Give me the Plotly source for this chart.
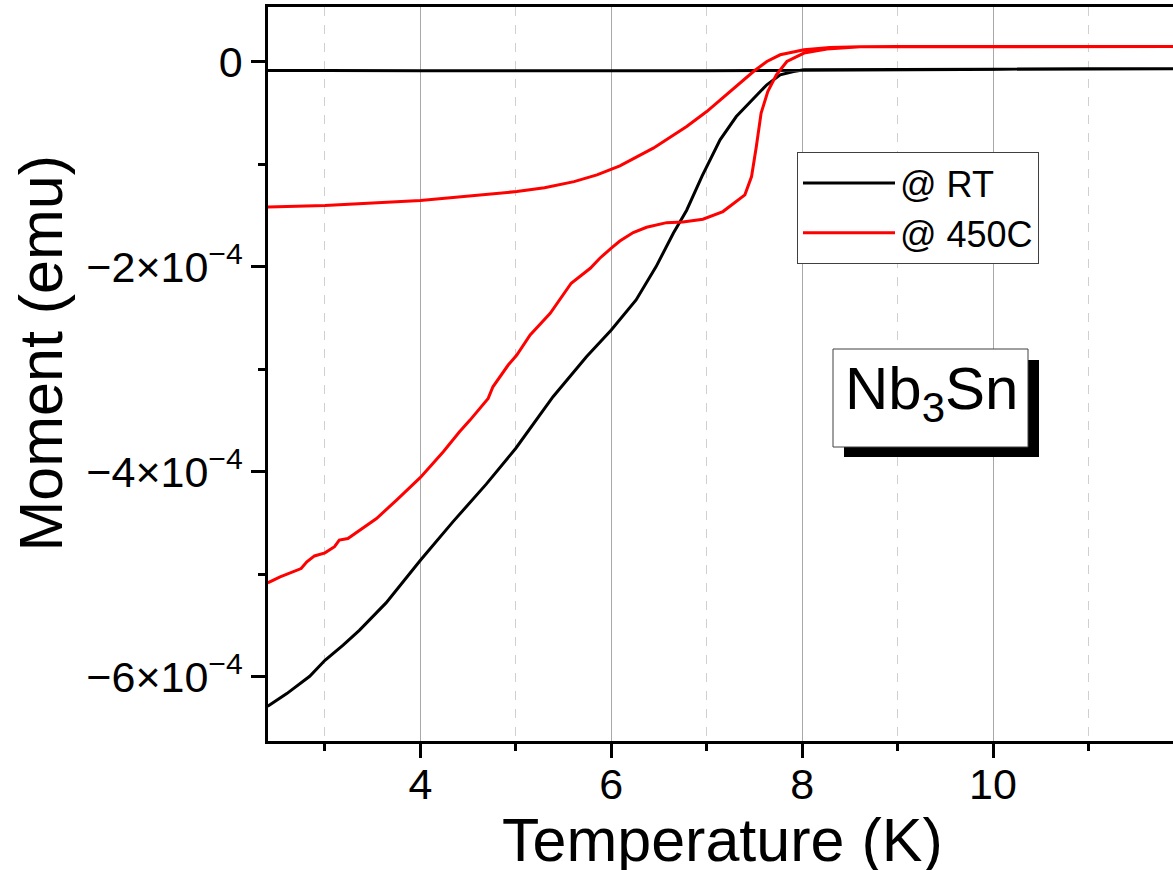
import numpy as np
import plotly.graph_objects as go

# ---- data (moment in units of 1e-4 emu) ----
T_rt_zfc = [2.40, 2.60, 2.84, 3.00, 3.19, 3.36, 3.64, 4.00, 4.34, 4.69, 5.00, 5.39, 5.74, 6.00,
            6.26, 6.47, 6.65, 6.79, 6.95, 7.00, 7.14, 7.31, 7.49, 7.63, 7.77, 7.91, 8.02, 8.50,
            9.00, 10.00, 11.00, 11.89]
M_rt_zfc = [-6.285, -6.162, -5.993, -5.837, -5.69, -5.545, -5.278, -4.862, -4.488, -4.12, -3.77,
            -3.268, -2.878, -2.618, -2.325, -2.0, -1.674, -1.45, -1.12, -1.024, -0.764, -0.537,
            -0.357, -0.227, -0.13, -0.098, -0.081, -0.078, -0.077, -0.075, -0.072, -0.07]
T_rt_fc = [11.89, 10.00, 8.50, 8.00, 7.00, 6.00, 5.00, 4.00, 3.00, 2.40]
M_rt_fc = [-0.07, -0.075, -0.08, -0.085, -0.09, -0.092, -0.092, -0.09, -0.088, -0.088]

T_450_zfc = [2.40, 2.53, 2.75, 2.81, 2.89, 3.00, 3.10, 3.15, 3.24, 3.36, 3.54, 3.75, 4.00, 4.24,
             4.41, 4.52, 4.71, 4.76, 4.92, 5.01, 5.15, 5.36, 5.58, 5.78, 5.88, 6.00, 6.09, 6.23,
             6.37, 6.58, 6.75, 6.96, 7.17, 7.40, 7.47, 7.52, 7.57, 7.64, 7.73, 7.84, 8.02, 8.26,
             8.61, 9.00, 10.00, 11.00, 11.89]
M_450_zfc = [-5.083, -5.024, -4.943, -4.878, -4.82, -4.79, -4.73, -4.666, -4.65, -4.569, -4.455,
             -4.276, -4.055, -3.805, -3.61, -3.496, -3.284, -3.171, -2.959, -2.861, -2.666,
             -2.455, -2.162, -2.016, -1.918, -1.82, -1.75, -1.668, -1.616, -1.571, -1.564,
             -1.538, -1.463, -1.3, -1.122, -0.829, -0.503, -0.293, -0.13, 0.0, 0.082, 0.121,
             0.143, 0.145, 0.145, 0.145, 0.145]
T_450_fc = [11.89, 11.00, 10.00, 9.00, 8.60, 8.29, 8.02, 7.77, 7.63, 7.49, 7.24, 7.00, 6.79,
            6.44, 6.09, 5.85, 5.61, 5.30, 5.01, 4.00, 3.00, 2.40]
M_450_fc = [0.145, 0.145, 0.145, 0.145, 0.143, 0.137, 0.114, 0.065, 0.0, -0.098, -0.293, -0.488,
            -0.634, -0.845, -1.018, -1.105, -1.171, -1.23, -1.268, -1.356, -1.405, -1.418]

series_names = ["@ RT", "@ 450C"]
series_colors = ["black", "#ff0000"]

y_tickvals = [0, -2e-4, -4e-4, -6e-4]
y_ticktext = ["0", "\u22122\u00d710<sup>\u22124</sup>", "\u22124\u00d710<sup>\u22124</sup>",
              "\u22126\u00d710<sup>\u22124</sup>"]
y_minor = [-1e-4, -3e-4, -5e-4]
x_tickvals = [4, 6, 8, 10]
x_minor = [3, 5, 7, 9, 11]
x_title = "Temperature (K)"
y_title = "Moment (emu)"
label_text = "Nb<sub>3</sub>Sn"

SCALE = 1e-4
FONT = "Liberation Sans, Arial, sans-serif"

fig = go.Figure()
for T, M, name, color in [
    (T_rt_zfc + T_rt_fc, M_rt_zfc + M_rt_fc, series_names[0], series_colors[0]),
    (T_450_zfc + T_450_fc, M_450_zfc + M_450_fc, series_names[1], series_colors[1]),
]:
    fig.add_trace(go.Scatter(x=T, y=np.array(M) * SCALE, mode="lines", name=name,
                             line=dict(color=color, width=3)))

W, H = 1173, 870
ml, mr, mt, mb = 268, 0, 7, 129
pw, ph = W - ml - mr, H - mt - mb


def px(x):
    return (x - ml) / pw


def py(y):
    return (H - mb - y) / ph


fig.update_layout(
    width=W, height=H,
    margin=dict(l=ml, r=mr, t=mt, b=mb, pad=0),
    paper_bgcolor="white", plot_bgcolor="white",
    font=dict(family=FONT, color="black"),
    showlegend=True,
    legend=dict(x=px(797), y=py(152), xanchor="left", yanchor="top",
                bgcolor="white", bordercolor="#404040", borderwidth=1,
                font=dict(size=36, family=FONT), itemwidth=92, tracegroupgap=0),
    xaxis=dict(range=[2.403, 11.886], tickvals=x_tickvals, ticks="outside", ticklen=14,
               tickwidth=2.5, tickcolor="black", showline=True, linecolor="black",
               linewidth=2.5, mirror=True, showgrid=True, gridcolor="#a8a8a8", gridwidth=1,
               zeroline=False, tickfont=dict(size=43), ticklabelstandoff=-10,
               minor=dict(tickvals=x_minor, ticks="outside", ticklen=7, tickwidth=2.5,
                          tickcolor="black", showgrid=True, gridcolor="#d0d0d0",
                          griddash="dash", gridwidth=1)),
    yaxis=dict(range=[-6.624e-4, 0.531e-4], tickvals=y_tickvals, ticktext=y_ticktext,
               ticks="outside", ticklen=14, tickwidth=2.5, tickcolor="black",
               showline=True, linecolor="black", linewidth=2.5, mirror=False,
               showgrid=False, zeroline=False, tickfont=dict(size=43),
               minor=dict(tickvals=y_minor, ticks="outside", ticklen=7, tickwidth=2.5,
                          tickcolor="black", showgrid=False)),
)

# axis titles
fig.add_annotation(xref="paper", yref="paper", x=px(722), y=py(840), xanchor="center",
                   yanchor="middle", showarrow=False, text=x_title,
                   font=dict(size=61, family=FONT, color="black"))
fig.add_annotation(xref="paper", yref="paper", x=px(40), y=py(353.5), xanchor="center",
                   yanchor="middle", showarrow=False, text=y_title, textangle=-90,
                   font=dict(size=61, family=FONT, color="black"))

# Nb3Sn label box with drop shadow
fig.add_shape(type="rect", xref="paper", yref="paper",
              x0=px(844), x1=px(1039), y0=py(457), y1=py(360),
              fillcolor="black", line=dict(width=0))
fig.add_shape(type="rect", xref="paper", yref="paper",
              x0=px(833), x1=px(1028), y0=py(447), y1=py(349),
              fillcolor="white", line=dict(color="#404040", width=1))
fig.add_annotation(xref="paper", yref="paper", x=px(931), y=py(393),
                   xanchor="center", yanchor="middle", showarrow=False,
                   text=label_text, font=dict(size=60, family=FONT, color="black"))

fig.write_html("out.html", config={"displayModeBar": False},
               post_script="document.body.style.margin='0px';"
                           "document.body.style.overflow='hidden';")
